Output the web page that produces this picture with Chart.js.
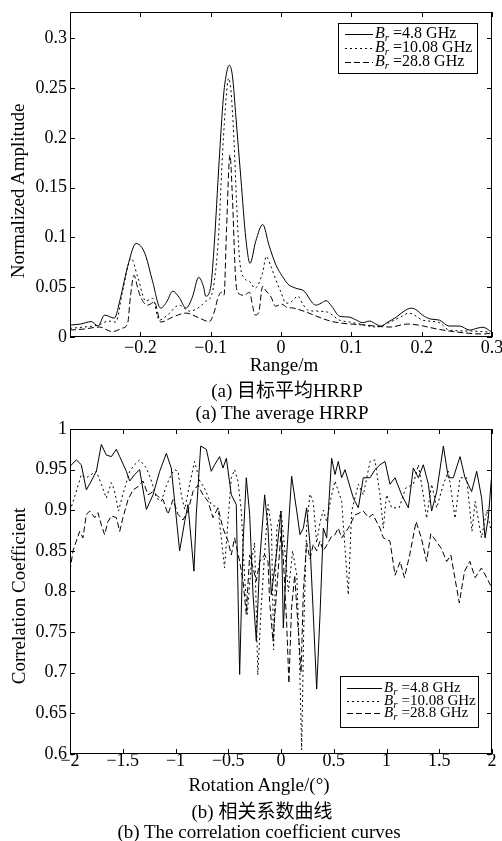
<!DOCTYPE html>
<html>
<head>
<meta charset="utf-8">
<script src="https://cdn.jsdelivr.net/npm/chart.js@4.4.0/dist/chart.umd.min.js"></script>
<style>
  body { margin: 0; background: #fff; width: 502px; height: 841px; position: relative; overflow: hidden;
         font-family: "Liberation Serif", "Times New Roman", "Noto Sans CJK SC", serif; color: #000; }
  canvas { position: absolute; left: 0; }
  .txt { position: absolute; white-space: nowrap; font-size: 19px; transform: translate(-50%, -50%); }
  .ylab { transform: translate(-50%, -50%) rotate(-90deg); }
</style>
</head>
<body>
<canvas id="hrrpChart" width="502" height="365" style="top:0"></canvas>
<canvas id="corrChart" width="502" height="360" style="top:420px"></canvas>

<div class="txt ylab" style="left:18px; top:191px">Normalized Amplitude</div>
<div class="txt" style="left:284px; top:365px">Range/m</div>
<div class="txt" style="left:287px; top:388px">(a) 目标平均HRRP</div>
<div class="txt" style="left:282px; top:413px">(a) The average HRRP</div>

<div class="txt ylab" style="left:19px; top:596px">Correlation Coefficient</div>
<div class="txt" style="left:259px; top:785px">Rotation Angle/(°)</div>
<div class="txt" style="left:262px; top:809px">(b) 相关系数曲线</div>
<div class="txt" style="left:259px; top:832px">(b) The correlation coefficient curves</div>

<script>
// (a) average HRRP, three bandwidths
const hrrpRange48 = [
  -0.30, -0.285, -0.27, -0.26, -0.251, -0.237, -0.228, -0.218, -0.206, -0.198,
  -0.192, -0.183, -0.171, -0.162, -0.154, -0.145, -0.135, -0.126, -0.117, -0.110,
  -0.107, -0.0996, -0.095, -0.088, -0.082, -0.078, -0.0735, -0.069, -0.064, -0.057,
  -0.050, -0.044, -0.036, -0.026, -0.017, -0.007, 0.002, 0.010, 0.021, 0.033,
  0.045, 0.050, 0.057, 0.064, 0.072, 0.083, 0.097, 0.107, 0.116, 0.126,
  0.135, 0.142, 0.152, 0.164, 0.175, 0.185, 0.193, 0.201, 0.213, 0.225,
  0.239, 0.254, 0.268, 0.280, 0.287, 0.299
];
const hrrpAmp48 = [
  0.012, 0.013, 0.0155, 0.011, 0.022, 0.019, 0.040, 0.071, 0.094, 0.090,
  0.081, 0.057, 0.029, 0.036, 0.046, 0.040, 0.029, 0.040, 0.060, 0.050,
  0.041, 0.052, 0.092, 0.176, 0.240, 0.263, 0.273, 0.262, 0.220, 0.159,
  0.099, 0.074, 0.096, 0.113, 0.092, 0.072, 0.061, 0.053, 0.049, 0.046,
  0.034, 0.032, 0.034, 0.0365, 0.031, 0.021, 0.020, 0.017, 0.0144, 0.016,
  0.013, 0.011, 0.015, 0.020, 0.026, 0.029, 0.027, 0.022, 0.018, 0.017,
  0.011, 0.011, 0.007, 0.009, 0.0098, 0.0053
];
const hrrpRange1008 = [
  -0.30, -0.28, -0.26, -0.245, -0.235, -0.225, -0.213, -0.204, -0.192, -0.183,
  -0.173, -0.16, -0.145, -0.13, -0.116, -0.107, -0.100, -0.095, -0.089, -0.083,
  -0.078, -0.0745, -0.071, -0.067, -0.063, -0.059, -0.052, -0.045, -0.037, -0.026,
  -0.021, -0.015, -0.007, 0.0, 0.007, 0.014, 0.024, 0.031, 0.038, 0.050,
  0.066, 0.083, 0.098, 0.112, 0.136, 0.155, 0.170, 0.182, 0.192, 0.201,
  0.225, 0.239, 0.268, 0.296
];
const hrrpAmp1008 = [
  0.0087, 0.010, 0.012, 0.016, 0.015, 0.047, 0.079, 0.061, 0.036, 0.039,
  0.017, 0.023, 0.032, 0.026, 0.030, 0.036, 0.040, 0.055, 0.099, 0.186,
  0.240, 0.260, 0.246, 0.200, 0.132, 0.079, 0.059, 0.056, 0.049, 0.065,
  0.081, 0.072, 0.057, 0.045, 0.034, 0.035, 0.041, 0.033, 0.027, 0.026,
  0.025, 0.017, 0.015, 0.013, 0.010, 0.015, 0.020, 0.024, 0.021, 0.017,
  0.0144, 0.007, 0.006, 0.005
];
const hrrpRange288 = [
  -0.30, -0.28, -0.258, -0.24, -0.225, -0.218, -0.214, -0.209, -0.204, -0.200,
  -0.19, -0.18, -0.171, -0.154, -0.135, -0.116, -0.102, -0.095, -0.090, -0.085,
  -0.081, -0.0774, -0.0726, -0.069, -0.065, -0.062, -0.052, -0.045, -0.040, -0.037,
  -0.032, -0.026, -0.022, -0.014, -0.008, 0.001, 0.008, 0.018, 0.036, 0.050,
  0.070, 0.085, 0.12, 0.155, 0.18, 0.195, 0.222, 0.25, 0.287, 0.299
];
const hrrpAmp288 = [
  0.007, 0.008, 0.010, 0.0054, 0.009, 0.0138, 0.041, 0.062, 0.050, 0.041,
  0.032, 0.035, 0.015, 0.020, 0.024, 0.019, 0.0154, 0.025, 0.0385, 0.045,
  0.042, 0.109, 0.183, 0.139, 0.065, 0.045, 0.042, 0.045, 0.030, 0.022,
  0.024, 0.051, 0.047, 0.040, 0.031, 0.033, 0.030, 0.029, 0.025, 0.021,
  0.016, 0.014, 0.012, 0.010, 0.013, 0.012, 0.008, 0.005, 0.003, 0.004
];
const hrrpTicksX = [-0.3, -0.2, -0.1, 0, 0.1, 0.2, 0.3];
const hrrpTicksY = [0, 0.05, 0.1, 0.15, 0.2, 0.25, 0.3];

// (b) correlation coefficient vs rotation angle
const angle48 = [
  -2.0, -1.94, -1.893, -1.845, -1.798, -1.75, -1.703, -1.656, -1.608, -1.561,
  -1.529, -1.466, -1.434, -1.387, -1.34, -1.276, -1.213, -1.15, -1.087, -1.04,
  -1.008, -0.961, -0.913, -0.882, -0.825, -0.803, -0.761, -0.708, -0.661, -0.629,
  -0.582, -0.55, -0.518, -0.471, -0.424, -0.392, -0.36, -0.329, -0.297, -0.265,
  -0.234, -0.202, -0.155, -0.123, -0.092, -0.044, 0.0, 0.022, 0.054, 0.101,
  0.149, 0.18, 0.212, 0.243, 0.275, 0.306, 0.338, 0.37, 0.401, 0.433,
  0.48, 0.512, 0.543, 0.575, 0.607, 0.638, 0.686, 0.733, 0.78, 0.844,
  0.891, 0.938, 0.986, 1.033, 1.081, 1.144, 1.207, 1.254, 1.302, 1.349,
  1.397, 1.428, 1.476, 1.539, 1.586, 1.633, 1.697, 1.744, 1.807, 1.855,
  1.902, 1.934, 1.965, 2.0
];
const corr48 = [
  0.954, 0.962, 0.956, 0.925, 0.936, 0.948, 0.981, 0.968, 0.966, 0.975,
  0.966, 0.948, 0.936, 0.944, 0.950, 0.901, 0.919, 0.948, 0.970, 0.952,
  0.911, 0.850, 0.886, 0.907, 0.825, 0.895, 0.979, 0.975, 0.948, 0.956,
  0.966, 0.952, 0.964, 0.919, 0.907, 0.698, 0.858, 0.940, 0.895, 0.796,
  0.739, 0.837, 0.919, 0.878, 0.796, 0.845, 0.899, 0.755, 0.845, 0.942,
  0.899, 0.870, 0.878, 0.903, 0.858, 0.772, 0.680, 0.772, 0.878, 0.866,
  0.964, 0.944, 0.960, 0.940, 0.950, 0.936, 0.915, 0.903, 0.940, 0.940,
  0.950, 0.956, 0.960, 0.932, 0.940, 0.919, 0.903, 0.952, 0.940, 0.956,
  0.932, 0.899, 0.923, 0.979, 0.940, 0.940, 0.966, 0.940, 0.923, 0.948,
  0.915, 0.866, 0.891, 0.948
];
const angle1008 = [
  -2.0, -1.95, -1.893, -1.845, -1.75, -1.703, -1.656, -1.608, -1.58, -1.54,
  -1.50, -1.434, -1.387, -1.34, -1.276, -1.228, -1.18, -1.134, -1.087, -1.04,
  -1.008, -0.976, -0.945, -0.913, -0.866, -0.819, -0.77, -0.724, -0.661, -0.598,
  -0.566, -0.535, -0.503, -0.471, -0.44, -0.408, -0.376, -0.345, -0.32, -0.28,
  -0.25, -0.22, -0.19, -0.16, -0.123, -0.09, -0.07, -0.04, 0.0, 0.03,
  0.07, 0.11, 0.15, 0.175, 0.196, 0.215, 0.243, 0.275, 0.306, 0.338,
  0.37, 0.401, 0.433, 0.48, 0.512, 0.575, 0.638, 0.67, 0.733, 0.78,
  0.844, 0.891, 0.938, 0.97, 1.0, 1.05, 1.12, 1.18, 1.254, 1.302,
  1.349, 1.38, 1.428, 1.476, 1.539, 1.586, 1.65, 1.697, 1.76, 1.81,
  1.84, 1.90, 1.95, 2.0
];
const corr1008 = [
  0.899, 0.919, 0.944, 0.940, 0.948, 0.932, 0.915, 0.934, 0.925, 0.899,
  0.919, 0.948, 0.956, 0.962, 0.952, 0.936, 0.915, 0.911, 0.930, 0.944,
  0.950, 0.948, 0.919, 0.901, 0.932, 0.960, 0.936, 0.927, 0.907, 0.903,
  0.866, 0.829, 0.886, 0.940, 0.950, 0.936, 0.899, 0.817, 0.772, 0.837,
  0.860, 0.697, 0.776, 0.837, 0.907, 0.878, 0.728, 0.878, 0.899, 0.860,
  0.800, 0.850, 0.820, 0.720, 0.605, 0.750, 0.880, 0.920, 0.910, 0.860,
  0.885, 0.900, 0.886, 0.919, 0.936, 0.911, 0.796, 0.899, 0.932, 0.919,
  0.960, 0.962, 0.919, 0.878, 0.919, 0.903, 0.903, 0.927, 0.932, 0.956,
  0.919, 0.890, 0.932, 0.903, 0.932, 0.948, 0.890, 0.940, 0.940, 0.874,
  0.911, 0.866, 0.899, 0.870
];
const angle288 = [
  -2.0, -1.972, -1.94, -1.908, -1.877, -1.845, -1.813, -1.766, -1.735, -1.703,
  -1.672, -1.64, -1.608, -1.561, -1.529, -1.498, -1.45, -1.403, -1.356, -1.308,
  -1.261, -1.213, -1.166, -1.118, -1.071, -1.024, -0.976, -0.929, -0.882, -0.834,
  -0.787, -0.739, -0.692, -0.645, -0.597, -0.55, -0.502, -0.471, -0.44, -0.392,
  -0.36, -0.329, -0.297, -0.265, -0.234, -0.202, -0.155, -0.123, -0.108, -0.076,
  -0.044, 0.003, 0.022, 0.054, 0.075, 0.10, 0.13, 0.16, 0.19, 0.212,
  0.243, 0.275, 0.306, 0.338, 0.37, 0.401, 0.433, 0.48, 0.512, 0.543,
  0.575, 0.638, 0.70, 0.78, 0.83, 0.87, 0.938, 0.97, 1.033, 1.081,
  1.13, 1.17, 1.22, 1.28, 1.33, 1.38, 1.42, 1.47, 1.52, 1.57,
  1.61, 1.66, 1.69, 1.74, 1.79, 1.84, 1.90, 1.95, 2.0
];
const corr288 = [
  0.825, 0.850, 0.862, 0.874, 0.866, 0.895, 0.899, 0.891, 0.897, 0.882,
  0.870, 0.886, 0.893, 0.891, 0.874, 0.891, 0.913, 0.925, 0.929, 0.936,
  0.919, 0.923, 0.917, 0.913, 0.895, 0.913, 0.895, 0.888, 0.899, 0.923,
  0.931, 0.919, 0.911, 0.891, 0.903, 0.878, 0.862, 0.845, 0.866, 0.837,
  0.813, 0.772, 0.845, 0.829, 0.813, 0.837, 0.845, 0.837, 0.788, 0.739,
  0.796, 0.878, 0.840, 0.760, 0.687, 0.780, 0.820, 0.760, 0.700, 0.800,
  0.860, 0.840, 0.858, 0.850, 0.862, 0.850, 0.857, 0.868, 0.870, 0.878,
  0.866, 0.878, 0.894, 0.899, 0.891, 0.895, 0.878, 0.866, 0.862, 0.820,
  0.837, 0.817, 0.845, 0.886, 0.866, 0.837, 0.871, 0.862, 0.853, 0.837,
  0.845, 0.808, 0.786, 0.825, 0.837, 0.817, 0.829, 0.817, 0.804
];
const corrTicksX = [-2, -1.5, -1, -0.5, 0, 0.5, 1, 1.5, 2];
const corrTicksY = [0.6, 0.65, 0.7, 0.75, 0.8, 0.85, 0.9, 0.95, 1];

const bandLabels = ['=4.8 GHz', '=10.08 GHz', '=28.8 GHz'];
const lineDashes = [[], [2, 3], [6, 3]];

Chart.defaults.font.family = '"Liberation Serif", "Times New Roman", serif';
Chart.defaults.font.size = 18;
Chart.defaults.color = '#000';

function toPoints(xs, ys) {
  return xs.map((x, i) => ({ x: x, y: ys[i] }));
}

function fmtTick(v) {
  const n = Number(v.toFixed(2));
  return n < 0 ? '\u2212' + Math.abs(n) : String(n);
}

// box round the plot area with inward ticks on all four sides
const frameTicks = {
  id: 'frameTicks',
  afterDatasetsDraw(chart) {
    const { ctx, chartArea: a, scales } = chart;
    const len = 5;
    ctx.save();
    ctx.strokeStyle = '#000';
    ctx.lineWidth = 1;
    ctx.setLineDash([]);
    ctx.strokeRect(a.left + 0.5, a.top + 0.5, a.right - a.left - 1, a.bottom - a.top - 1);
    ctx.beginPath();
    scales.x.ticks.forEach(t => {
      const px = Math.round(scales.x.getPixelForValue(t.value)) + 0.5;
      ctx.moveTo(px, a.bottom); ctx.lineTo(px, a.bottom - len);
      ctx.moveTo(px, a.top); ctx.lineTo(px, a.top + len);
    });
    scales.y.ticks.forEach(t => {
      const py = Math.round(scales.y.getPixelForValue(t.value)) + 0.5;
      ctx.moveTo(a.left, py); ctx.lineTo(a.left + len, py);
      ctx.moveTo(a.right, py); ctx.lineTo(a.right - len, py);
    });
    ctx.stroke();
    ctx.restore();
  }
};

// legend with italic B and subscript r
const boxLegend = {
  id: 'boxLegend',
  afterDraw(chart, args, o) {
    const ctx = chart.ctx;
    ctx.save();
    ctx.fillStyle = '#fff';
    ctx.fillRect(o.x, o.y, o.w, o.h);
    ctx.strokeStyle = '#000';
    ctx.lineWidth = 1;
    ctx.setLineDash([]);
    ctx.strokeRect(o.x + 0.5, o.y + 0.5, o.w, o.h);
    ctx.fillStyle = '#000';
    ctx.textBaseline = 'middle';
    chart.data.datasets.forEach((ds, i) => {
      const cy = Math.round(o.y + o.first + i * o.gap);
      ctx.setLineDash(ds.borderDash || []);
      ctx.beginPath();
      ctx.moveTo(o.x + 7, cy + 0.5);
      ctx.lineTo(o.x + 7 + o.lineLen, cy + 0.5);
      ctx.stroke();
      ctx.setLineDash([]);
      let tx = o.x + 9 + o.lineLen;
      ctx.font = 'italic ' + o.size + 'px "Liberation Serif"';
      ctx.fillText('B', tx, cy);
      tx += ctx.measureText('B').width;
      ctx.font = 'italic ' + Math.round(o.size * 0.7) + 'px "Liberation Serif"';
      ctx.fillText('r', tx, cy + 4);
      tx += ctx.measureText('r').width + 4;
      ctx.font = o.size + 'px "Liberation Serif"';
      ctx.fillText(ds.label, tx, cy);
    });
    ctx.restore();
  }
};

function makeDatasets(xsList, ysList, opts) {
  return xsList.map((xs, i) => Object.assign({
    label: bandLabels[i],
    data: toPoints(xs, ysList[i]),
    borderColor: '#000',
    borderWidth: 1,
    borderDash: lineDashes[i],
    pointRadius: 0,
    fill: false
  }, opts));
}

function axisOptions(min, max, ticks, pad, fixSize) {
  return {
    type: 'linear',
    min: min,
    max: max,
    grid: { display: false, drawTicks: false },
    border: { display: false },
    ticks: {
      padding: pad,
      maxRotation: 0,
      autoSkip: false,
      font: { size: 18, lineHeight: 1 },
      callback: v => (v === -0.3 ? '' : fmtTick(v))
    },
    afterBuildTicks: s => { s.ticks = ticks.map(v => ({ value: v })); },
    afterFit: fixSize
  };
}

new Chart(document.getElementById('hrrpChart'), {
  type: 'line',
  data: {
    datasets: makeDatasets(
      [hrrpRange48, hrrpRange1008, hrrpRange288],
      [hrrpAmp48, hrrpAmp1008, hrrpAmp288],
      { cubicInterpolationMode: 'monotone' }
    )
  },
  options: {
    responsive: false,
    animation: false,
    layout: { padding: { left: 0, right: 10, top: 12, bottom: 0 } },
    plugins: {
      legend: { display: false },
      tooltip: { enabled: false },
      boxLegend: { x: 338, y: 23, w: 139, h: 50, first: 11, gap: 14, lineLen: 28, size: 16 }
    },
    scales: {
      x: axisOptions(-0.3, 0.3, hrrpTicksX, 2, s => { s.height = 28; s.paddingLeft = 0; s.paddingRight = 0; }),
      y: axisOptions(0, 0.3265, hrrpTicksY, 3, s => { s.width = 70; s.paddingTop = 0; s.paddingBottom = 0; })
    }
  },
  plugins: [frameTicks, boxLegend]
});

new Chart(document.getElementById('corrChart'), {
  type: 'line',
  data: {
    datasets: makeDatasets(
      [angle48, angle1008, angle288],
      [corr48, corr1008, corr288],
      { tension: 0 }
    )
  },
  options: {
    responsive: false,
    animation: false,
    layout: { padding: { left: 0, right: 10, top: 9, bottom: 0 } },
    plugins: {
      legend: { display: false },
      tooltip: { enabled: false },
      boxLegend: { x: 340, y: 256, w: 138, h: 51, first: 12, gap: 12.5, lineLen: 35, size: 15 }
    },
    scales: {
      x: axisOptions(-2, 2, corrTicksX, -2, s => { s.height = 26; s.paddingLeft = 0; s.paddingRight = 0; }),
      y: axisOptions(0.6, 1, corrTicksY, 3, s => { s.width = 70; s.paddingTop = 0; s.paddingBottom = 0; })
    }
  },
  plugins: [frameTicks, boxLegend]
});
</script>
</body>
</html>
